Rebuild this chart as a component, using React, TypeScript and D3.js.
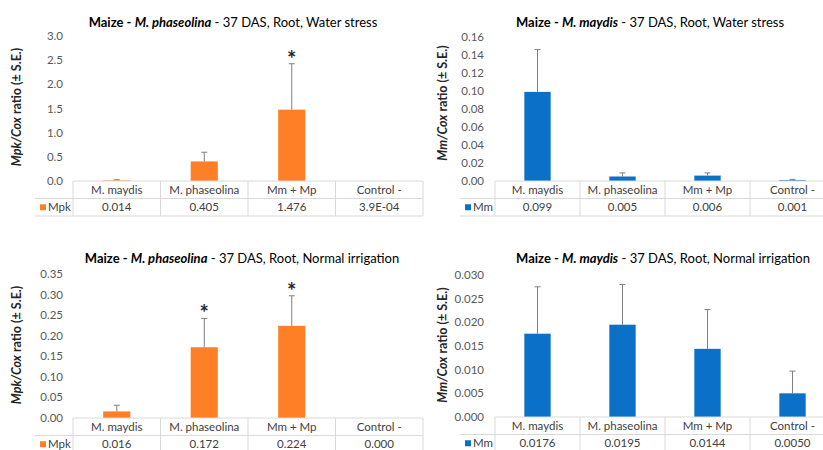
import React from "react";
import * as d3 from "d3";

const categories = ["M. maydis", "M. phaseolina", "Mm + Mp", "Control -"];

// Panel 1: M. phaseolina, water stress (Mpk)
const p1Values = [0.014, 0.405, 1.476, 0.00039];
const p1SE = [0.012, 0.19, 0.95, 0];
const p1Labels = ["0.014", "0.405", "1.476", "3.9E-04"];
const p1Sig = [false, false, true, false];
const p1Ticks = [0, 0.5, 1.0, 1.5, 2.0, 2.5, 3.0];

// Panel 2: M. maydis, water stress (Mm)
const p2Values = [0.099, 0.005, 0.006, 0.001];
const p2SE = [0.047, 0.004, 0.003, 0.0008];
const p2Labels = ["0.099", "0.005", "0.006", "0.001"];
const p2Sig = [false, false, false, false];
const p2Ticks = [0, 0.02, 0.04, 0.06, 0.08, 0.1, 0.12, 0.14, 0.16];

// Panel 3: M. phaseolina, normal irrigation (Mpk)
const p3Values = [0.016, 0.172, 0.224, 0.0];
const p3SE = [0.015, 0.07, 0.073, 0];
const p3Labels = ["0.016", "0.172", "0.224", "0.000"];
const p3Sig = [false, true, true, false];
const p3Ticks = [0, 0.05, 0.1, 0.15, 0.2, 0.25, 0.3, 0.35];

// Panel 4: M. maydis, normal irrigation (Mm)
const p4Values = [0.0176, 0.0195, 0.0144, 0.005];
const p4SE = [0.0099, 0.0085, 0.0083, 0.0047];
const p4Labels = ["0.0176", "0.0195", "0.0144", "0.0050"];
const p4Sig = [false, false, false, false];
const p4Ticks = [0, 0.005, 0.01, 0.015, 0.02, 0.025, 0.03];

const ORANGE = "#FF7F27";
const BLUE = "#0A70C8";
const FONT = "Lato, 'Open Sans', sans-serif";

type PanelProps = {
  values: number[];
  se: number[];
  labels: string[];
  sig: boolean[];
  ticks: number[];
  fmt: string;
  color: string;
  series: string;
  species: string;
  condition: string;
  gene: string;
  left: number;
  right: number;
  top: number;
  bottom: number;
  tickRight: number;
  legendLeft: number;
  titleX: number;
  titleY: number;
  yLabelX: number;
  yLabelY: number;
};

function Panel(p: PanelProps) {
  const y = d3
    .scaleLinear()
    .domain([0, p.ticks[p.ticks.length - 1]])
    .range([p.bottom, p.top]);
  const x = d3
    .scaleBand<string>()
    .domain(categories)
    .range([p.left, p.right])
    .paddingInner(0.69)
    .paddingOuter(0.345);
  const step = x.step();
  const f = d3.format(p.fmt);
  const row1 = p.bottom;
  const row2 = p.bottom + 17.5;
  const row3 = p.bottom + 35;
  const grid = "#D9D9D9";
  const boundaries = categories
    .map((_, i) => p.left + i * step)
    .concat([p.left + categories.length * step]);
  return (
    <g>
      <text x={p.titleX} y={p.titleY} textAnchor="middle" fontSize={13} fill="#000" fontFamily={FONT}>
        <tspan fontWeight="bold">Maize - </tspan>
        <tspan fontWeight="bold" fontStyle="italic">{p.species}</tspan>
        <tspan> - 37 DAS, Root, {p.condition}</tspan>
      </text>
      <text
        transform={`translate(${p.yLabelX},${p.yLabelY}) rotate(-90)`}
        textAnchor="middle"
        fontSize={12.5}
        fontWeight="bold"
        fill="#262626"
        fontFamily={FONT}
      >
        <tspan fontStyle="italic">{p.gene}/Cox</tspan>
        <tspan> ratio (± S.E.)</tspan>
      </text>
      {p.ticks.map((t) => (
        <text
          key={t}
          x={p.tickRight}
          y={y(t)}
          dy="0.35em"
          textAnchor="end"
          fontSize={11.5}
          fill="#595959"
          fontFamily={FONT}
        >
          {f(t)}
        </text>
      ))}
      {categories.map((c, i) => {
        const bx = x(c)!;
        const bw = x.bandwidth();
        const v = p.values[i];
        const top = p.se[i] > 0 ? y(v + p.se[i]) : y(v);
        const cx = bx + bw / 2;
        return (
          <g key={c}>
            <rect x={bx} y={y(v)} width={bw} height={Math.max(0, p.bottom - y(v))} fill={p.color} />
            {p.se[i] > 0 && (
              <g stroke="#7F7F7F" strokeWidth={1}>
                <line x1={cx} x2={cx} y1={y(v)} y2={top} />
                <line x1={cx - 3} x2={cx + 3} y1={top} y2={top} />
              </g>
            )}
            {p.sig[i] && (
              <text x={cx} y={top + 3} textAnchor="middle" fontSize={22} fontWeight="bold" fill="#262626" fontFamily={FONT}>
                *
              </text>
            )}
          </g>
        );
      })}
      <g stroke={grid} strokeWidth={1}>
        <line x1={p.left} x2={p.right} y1={row1} y2={row1} />
        <line x1={p.legendLeft} x2={p.right} y1={row2} y2={row2} />
        <line x1={p.legendLeft} x2={p.right} y1={row3} y2={row3} />
        {boundaries.map((bx, i) => (
          <line key={i} x1={bx} x2={bx} y1={row1} y2={row3} />
        ))}
      </g>
      {categories.map((c, i) => (
        <g key={c} fontFamily={FONT} fontSize={11.5} fill="#404040" textAnchor="middle">
          <text x={x(c)! + x.bandwidth() / 2} y={(row1 + row2) / 2} dy="0.36em">
            {c}
          </text>
          <text x={x(c)! + x.bandwidth() / 2} y={(row2 + row3) / 2} dy="0.36em">
            {p.labels[i]}
          </text>
        </g>
      ))}
      <rect x={p.legendLeft + 5} y={(row2 + row3) / 2 - 3} width={6} height={6} fill={p.color} />
      <text x={p.legendLeft + 13} y={(row2 + row3) / 2} dy="0.36em" fontSize={11.5} fill="#404040" fontFamily={FONT}>
        {p.series}
      </text>
    </g>
  );
}

export default function App() {
  return (
    <svg width={823} height={450} style={{ position: "absolute", left: 0, top: 0, background: "#fff" }}>
      <rect width={823} height={450} fill="#fff" />
      <Panel
        values={p1Values}
        se={p1SE}
        labels={p1Labels}
        sig={p1Sig}
        ticks={p1Ticks}
        fmt=".1f"
        color={ORANGE}
        series="Mpk"
        species="M. phaseolina"
        condition="Water stress"
        gene="Mpk"
        left={73}
        right={423}
        top={36}
        bottom={181}
        tickRight={63}
        legendLeft={35}
        titleX={233}
        titleY={26.5}
        yLabelX={21}
        yLabelY={107}
      />
      <Panel
        values={p2Values}
        se={p2SE}
        labels={p2Labels}
        sig={p2Sig}
        ticks={p2Ticks}
        fmt=".2f"
        color={BLUE}
        series="Mm"
        species="M. maydis"
        condition="Water stress"
        gene="Mm"
        left={495}
        right={835}
        top={37}
        bottom={181}
        tickRight={484}
        legendLeft={460}
        titleX={650}
        titleY={26.5}
        yLabelX={447}
        yLabelY={103}
      />
      <Panel
        values={p3Values}
        se={p3SE}
        labels={p3Labels}
        sig={p3Sig}
        ticks={p3Ticks}
        fmt=".2f"
        color={ORANGE}
        series="Mpk"
        species="M. phaseolina"
        condition="Normal irrigation"
        gene="Mpk"
        left={73}
        right={423}
        top={274}
        bottom={418}
        tickRight={63}
        legendLeft={35}
        titleX={242}
        titleY={262.5}
        yLabelX={21}
        yLabelY={345}
      />
      <Panel
        values={p4Values}
        se={p4SE}
        labels={p4Labels}
        sig={p4Sig}
        ticks={p4Ticks}
        fmt=".3f"
        color={BLUE}
        series="Mm"
        species="M. maydis"
        condition="Normal irrigation"
        gene="Mm"
        left={495}
        right={835}
        top={275}
        bottom={417}
        tickRight={484}
        legendLeft={460}
        titleX={663}
        titleY={262.5}
        yLabelX={447}
        yLabelY={345}
      />
    </svg>
  );
}
